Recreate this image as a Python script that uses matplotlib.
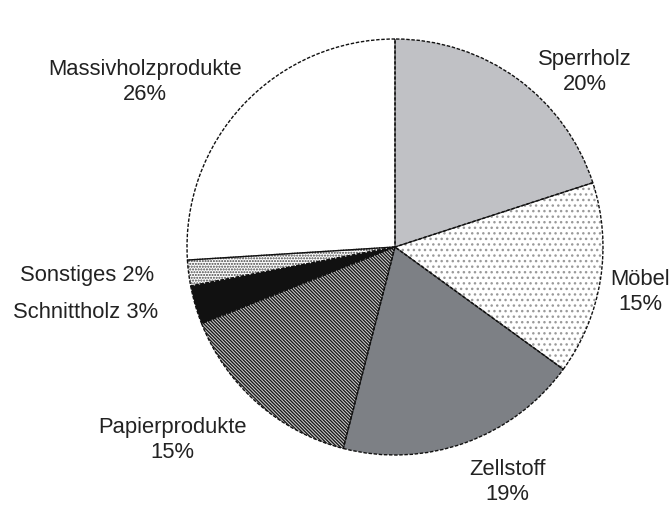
import matplotlib
matplotlib.use("Agg")
import matplotlib.pyplot as plt

categories = ["Sperrholz", "Möbel", "Zellstoff", "Papierprodukte",
              "Schnittholz", "Sonstiges", "Massivholzprodukte"]
shares = [20, 15, 19, 15, 3, 2, 26]

faces = ["#c0c1c5", "white", "#7d8085", "#d8d8d8", "#111111", "white", "white"]
hatches = ["", "...", "", "\\" * 10, "", "......", ""]
hatch_colors = ["#c0c1c5", "#9a9a9a", "#7d8085", "#1a1a1a", "#111111", "#444444", "white"]

plt.rcParams["font.family"] = ["Liberation Sans", "DejaVu Sans"]
plt.rcParams["hatch.linewidth"] = 1.0

fig = plt.figure(figsize=(6.72, 5.06), dpi=100)
ax = fig.add_axes([0, 0, 1, 1])

center = (395, 506 - 248)
radius = 208

# filled / hatched wedges
wedges, _ = ax.pie(shares, startangle=90, counterclock=False,
                   center=center, radius=radius, frame=True,
                   wedgeprops=dict(linewidth=0))
for w, fc, h, hc in zip(wedges, faces, hatches, hatch_colors):
    w.set_facecolor(fc)
    w.set_hatch(h)
    w.set_edgecolor(hc)

# dashed outlines on top
outlines, _ = ax.pie(shares, startangle=90, counterclock=False,
                     center=center, radius=radius, frame=True,
                     wedgeprops=dict(fill=False, edgecolor="#111111",
                                     linewidth=1.0, linestyle=(0, (2.5, 1.2))))
ax.set_xlim(0, 672)
ax.set_ylim(0, 506)
ax.set_aspect("equal")
ax.axis("off")

labels = {
    "Sperrholz": ("Sperrholz\n20%", 585, 72),
    "Möbel": ("Möbel\n15%", 640, 292),
    "Zellstoff": ("Zellstoff\n19%", 507, 482),
    "Papierprodukte": ("Papierprodukte\n15%", 172, 440),
    "Schnittholz": ("Schnittholz 3%", 86, 313),
    "Sonstiges": ("Sonstiges 2%", 87, 276),
    "Massivholzprodukte": ("Massivholzprodukte\n26%", 145, 82),
}
for name in categories:
    txt, x, y = labels[name]
    ax.text(x, 506 - y, txt, ha="center", va="center", fontsize=15.8,
            color="#222222", linespacing=1.2)

fig.savefig("out.png", dpi=100, facecolor="white")
